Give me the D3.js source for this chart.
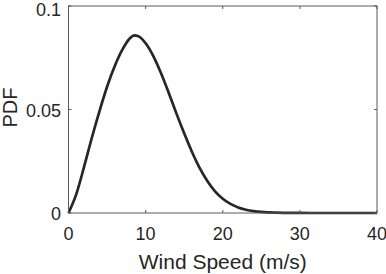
<!DOCTYPE html>
<html>
<head>
<meta charset="utf-8">
<script src="https://cdn.jsdelivr.net/npm/d3@7"></script>
<style>
  body { margin: 0; background: #fff; }
  svg text { font-family: "Liberation Sans", Arial, Helvetica, sans-serif; fill: #262626; }
</style>
</head>
<body>
<div id="chart"></div>
<script>
// 风速 (m/s)
const speeds = [0, 1, 2, 3, 4, 5, 6, 7, 8, 8.5, 9, 10, 11, 12, 13, 14, 15, 16, 17, 18, 19, 20, 21, 22, 23, 24, 25, 26, 27, 28, 30, 33, 36, 40];
// 概率密度
const pdfValues = [0, 0.009, 0.022, 0.036, 0.049, 0.061, 0.071, 0.079, 0.0845, 0.0858, 0.0855, 0.082, 0.0758, 0.0675, 0.058, 0.048, 0.0385, 0.0296, 0.0218, 0.0155, 0.0105, 0.0069, 0.0044, 0.0027, 0.0016, 0.0009, 0.0005, 0.0003, 0.00015, 0.00008, 0.00002, 0, 0, 0];
const xTicks = [0, 10, 20, 30, 40];
const yTicks = [0, 0.05, 0.1];
const yTickLabels = ['0', '0.05', '0.1'];

const width = 386, height = 274;
const margin = { top: 6, right: 9, bottom: 61, left: 68.5 };

const svg = d3.select('#chart').append('svg')
    .attr('width', width)
    .attr('height', height);

const x = d3.scaleLinear().domain([0, 40]).range([margin.left, width - margin.right]);
const y = d3.scaleLinear().domain([0, 0.1]).range([height - margin.bottom, margin.top]);

const axisColor = '#5a5a5a';

// 曲线
const line = d3.line()
    .x(d => x(d[0]))
    .y(d => y(d[1]))
    .curve(d3.curveMonotoneX);

svg.append('path')
    .datum(speeds.map((s, i) => [s, pdfValues[i]]))
    .attr('fill', 'none')
    .attr('stroke', '#262626')
    .attr('stroke-width', 2.7)
    .attr('stroke-linejoin', 'round')
    .attr('d', line);

// 坐标框
svg.append('rect')
    .attr('x', x(0))
    .attr('y', y(0.1))
    .attr('width', x(40) - x(0))
    .attr('height', y(0) - y(0.1))
    .attr('fill', 'none')
    .attr('stroke', axisColor)
    .attr('stroke-width', 1);

// 刻度 (内侧, 上下左右)
const tickLen = 3;
xTicks.forEach(t => {
    svg.append('line').attr('x1', x(t)).attr('x2', x(t))
        .attr('y1', y(0)).attr('y2', y(0) - tickLen).attr('stroke', axisColor);
    svg.append('line').attr('x1', x(t)).attr('x2', x(t))
        .attr('y1', y(0.1)).attr('y2', y(0.1) + tickLen).attr('stroke', axisColor);
});
yTicks.forEach(t => {
    svg.append('line').attr('x1', x(0)).attr('x2', x(0) + tickLen)
        .attr('y1', y(t)).attr('y2', y(t)).attr('stroke', axisColor);
    svg.append('line').attr('x1', x(40)).attr('x2', x(40) - tickLen)
        .attr('y1', y(t)).attr('y2', y(t)).attr('stroke', axisColor);
});

// 刻度标签
svg.selectAll('.xlabel')
    .data(xTicks)
    .enter()
    .append('text')
    .attr('class', 'xlabel')
    .attr('x', d => x(d))
    .attr('y', 240)
    .attr('text-anchor', 'middle')
    .attr('font-size', '18px')
    .text(d => d);

svg.selectAll('.ylabel')
    .data(yTicks)
    .enter()
    .append('text')
    .attr('class', 'ylabel')
    .attr('x', 61)
    .attr('y', d => Math.max(y(d), 9) + 7)
    .attr('text-anchor', 'end')
    .attr('font-size', '18px')
    .text((d, i) => yTickLabels[i]);

// 轴标题
svg.append('text')
    .attr('x', (x(0) + x(40)) / 2)
    .attr('y', 269)
    .attr('text-anchor', 'middle')
    .attr('font-size', '21px')
    .text('Wind Speed (m/s)');

svg.append('text')
    .attr('transform', `translate(17, ${(y(0) + y(0.1)) / 2 - 2}) rotate(-90)`)
    .attr('text-anchor', 'middle')
    .attr('font-size', '20px')
    .text('PDF');
</script>
</body>
</html>
